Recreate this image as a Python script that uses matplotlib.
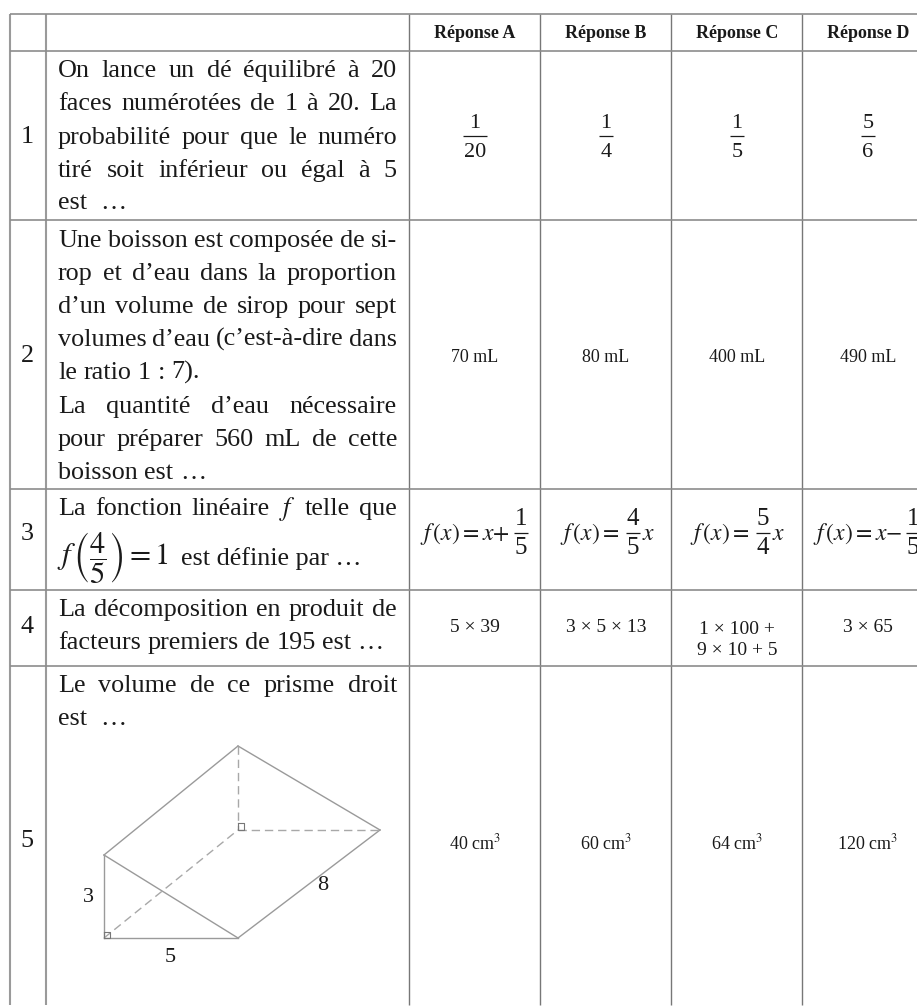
import matplotlib
matplotlib.use('Agg')
import matplotlib.pyplot as plt

plt.rcParams['font.family'] = ['Liberation Serif', 'DejaVu Serif']
plt.rcParams['mathtext.fontset'] = 'stix'

# grille du tableau
col_x = [10, 46, 409, 540, 671, 802]
row_y = [14, 51, 220, 489, 590, 666]
bottom_y = 1005
col_centers = [475, 606, 737, 868]

headers = ['Réponse A', 'Réponse B', 'Réponse C', 'Réponse D']
row_numbers = ['1', '2', '3', '4', '5']
number_y = [137, 356, 534, 627, 841]

# lignes de question : texte, ligne de base, justifiée ou non
question_lines = [
    ('On lance un dé équilibré à 20', 77, True),
    ('faces numérotées de 1 à 20. La', 110, True),
    ('probabilité pour que le numéro', 144, True),
    ('tiré soit inférieur ou égal à 5', 177, True),
    ('est  …', 209, False),
    ('Une boisson est composée de si-', 247, True),
    ('rop et d’eau dans la proportion', 280, True),
    ('d’un volume de sirop pour sept', 313, True),
    ('volumes d’eau (c’est-à-dire dans', 346, True),
    ('le ratio 1 : 7).', 379, False),
    ('La quantité d’eau nécessaire', 413, True),
    ('pour préparer 560 mL de cette', 446, True),
    ('boisson est …', 479, False),
    ('La fonction linéaire $f$ telle que', 515, True),
    ('La décomposition en produit de', 616, True),
    ('facteurs premiers de 195 est …', 649, False),
    ('Le volume de ce prisme droit', 692, True),
    ('est  …', 725, False),
]

row1_fractions = [('1', '20'), ('1', '4'), ('1', '5'), ('5', '6')]
row2_answers = ['70 mL', '80 mL', '400 mL', '490 mL']
row4_answers = ['5 × 39', '3 × 5 × 13', '1 × 100 +\n9 × 10 + 5', '3 × 65']
row5_answers = [r'40 cm$^{3}$', r'60 cm$^{3}$', r'64 cm$^{3}$', r'120 cm$^{3}$']

# réponses de la ligne 3 : début, texte, centre de la fraction, fraction, suffixe
row3_answers = [
    (420, r'$f\,(x) = x{+}$', 521, ('1', '5'), ''),
    (560, r'$f\,(x) = $', 633, ('4', '5'), '$x$'),
    (690, r'$f\,(x) = $', 763, ('5', '4'), '$x$'),
    (813, r'$f\,(x) = x{-}$', 913, ('1', '5'), ''),
]

# prisme (coordonnées en pixels de la figure)
prism_solid = [
    ((104, 855), (238, 746)), ((238, 746), (380, 830)), ((104, 855), (104, 938)),
    ((104, 938), (238, 938)), ((104, 855), (238, 938)), ((238, 938), (380, 830)),
]
prism_dashed = [((238, 746), (238, 830)), ((238, 830), (380, 830)), ((104, 938), (238, 830))]
prism_labels = [('3', 88, 898), ('5', 170, 957), ('8', 323, 885)]

TEXT_SIZE = 18.8
SMALL_SIZE = 13
INK = '#1a1a1a'

fig = plt.figure(figsize=(9.17, 10.07), dpi=100)
ax = fig.add_axes([0, 0, 1, 1])
ax.set_xlim(0, 917)
ax.set_ylim(1007, 0)
ax.axis('off')
renderer = fig.canvas.get_renderer()


def text_width(s, size):
    t = ax.text(0, 0, s, fontsize=size)
    w = t.get_window_extent(renderer).width
    t.remove()
    return w


def justified(s, y, justify, left=58, right=397, size=TEXT_SIZE):
    # espacement mot à mot pour remplir la colonne
    words = s.split(' ')
    widths = [text_width(w, size) if w else 0 for w in words]
    if justify:
        gap = (right - left - sum(widths)) / (len(words) - 1)
    else:
        gap = text_width('a a', size) - 2 * text_width('a', size)
    x = left
    for w, wd in zip(words, widths):
        if w:
            ax.text(x, y, w, fontsize=size, color=INK, va='baseline', ha='left')
        x += wd + gap


def fraction(xc, yc, num, den, size, dy=15):
    half = text_width(max(num, den, key=len), size) / 2 + 1
    ax.text(xc, yc - 3, num, fontsize=size, color=INK, ha='center', va='bottom')
    ax.text(xc, yc + dy + 6, den, fontsize=size, color=INK, ha='center', va='baseline')
    ax.plot([xc - half, xc + half], [yc, yc], color=INK, lw=0.9, solid_capstyle='butt')


# grille
for i, x in enumerate(col_x):
    ax.plot([x, x], [row_y[0], bottom_y], color='#9a9a9a' if i < 2 else '#777777',
            lw=1.5 if i < 2 else 1.0, solid_capstyle='butt')
for y in row_y:
    ax.plot([10, 917], [y, y], color='#8c8c8c', lw=1.2, solid_capstyle='butt')

# en-têtes et numéros
for xc, h in zip(col_centers, headers):
    ax.text(xc, 34, h, fontsize=SMALL_SIZE, fontweight='bold', color=INK, ha='center', va='center')
for n, y in zip(row_numbers, number_y):
    ax.text(27, y, n, fontsize=TEXT_SIZE, color=INK, ha='center', va='center')

# questions
for s, y, j in question_lines:
    justified(s, y, j)

# ligne 3, deuxième ligne de la question
ax.text(57, 558, r'$f\,\left(\dfrac{4}{5}\right) = 1$', fontsize=22, color=INK,
        ha='left', va='center')
ax.text(181, 565, 'est définie par …', fontsize=TEXT_SIZE, color=INK, va='baseline')

# réponses
for xc, (a, b) in zip(col_centers, row1_fractions):
    fraction(xc, 136, a, b, 16)
for xc, s in zip(col_centers, row2_answers):
    ax.text(xc, 357, s, fontsize=SMALL_SIZE, color=INK, ha='center', va='center')
for x0, s, xf, (a, b), suffix in row3_answers:
    ax.text(x0, 540, s, fontsize=17, color=INK, ha='left', va='baseline')
    fraction(xf, 533, a, b, 18)
    if suffix:
        ax.text(xf + 9, 540, suffix, fontsize=17, color=INK, ha='left', va='baseline')
for xc, s in zip(col_centers, row4_answers):
    ax.text(xc, 628 if '\n' not in s else 640, s, fontsize=14, color=INK,
            ha='center', va='center', linespacing=1.25)
for xc, s in zip(col_centers, row5_answers):
    ax.text(xc, 843, s, fontsize=SMALL_SIZE, color=INK, ha='center', va='center')

# prisme
for (x0, y0), (x1, y1) in prism_solid:
    ax.plot([x0, x1], [y0, y1], color='#9a9a9a', lw=1.0)
for (x0, y0), (x1, y1) in prism_dashed:
    ax.plot([x0, x1], [y0, y1], color='#a8a8a8', lw=1.0, dashes=(6, 3.5))
ax.plot([238, 244, 244, 238, 238], [823, 823, 830, 830, 823], color='#777777', lw=0.8)
ax.plot([104, 110, 110, 104, 104], [932, 932, 938, 938, 932], color='#777777', lw=0.8)
for s, x, y in prism_labels:
    ax.text(x, y, s, fontsize=16, color=INK, ha='center', va='center')

fig.savefig('out.png', dpi=100)
